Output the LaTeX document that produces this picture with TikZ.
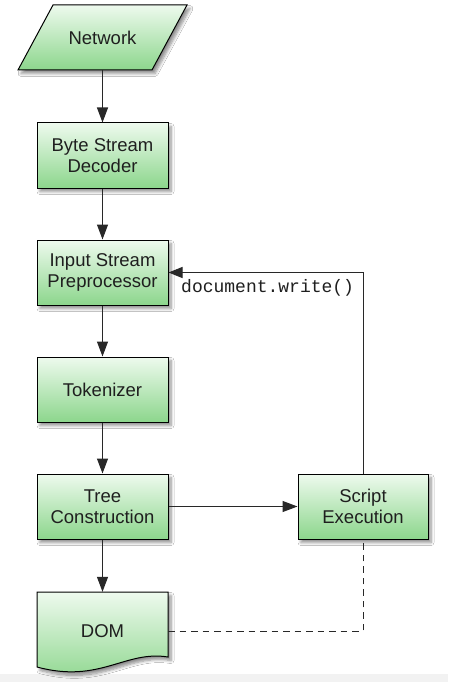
\documentclass[tikz,border=0pt]{standalone}
\usepackage{fontspec}
\setmainfont{Liberation Sans}
\newfontfamily\monofont{Liberation Mono}
\usetikzlibrary{arrows.meta,shadows.blur}
\definecolor{gtop}{RGB}{238,250,238}
\definecolor{gbot}{RGB}{140,214,140}
\definecolor{linec}{RGB}{40,40,40}
\tikzset{
  greenfill/.style={top color=gtop, bottom color=gbot, draw=black, line width=1pt,
    blur shadow={shadow xshift=3pt, shadow yshift=-3.5pt, shadow blur steps=6, shadow opacity=45, shadow blur radius=3pt}},
  stagebox/.style={greenfill, rectangle, minimum width=131pt, minimum height=65pt,
    align=center, inner sep=0pt, font=\fontsize{18.5}{21}\selectfont, text=black!88},
  plainlabel/.style={inner sep=0pt, align=center, font=\fontsize{18.5}{21}\selectfont, text=black!88},
  flow/.style={draw=linec, line width=1.1pt, -{Triangle[length=15pt,width=11pt]}},
  back/.style={draw=linec, line width=0.8pt, -{Triangle[length=14pt,width=11pt]}},
  dashline/.style={draw=linec, line width=0.8pt, dash pattern=on 6.5pt off 5pt}
}
\begin{document}
\begin{tikzpicture}[x=1pt,y=-1pt]
\useasboundingbox (0,0) rectangle (448,682);
\fill[white] (0,0) rectangle (448,682);
\fill[black!5] (0,674) rectangle (448,682);
% Network parallelogram
\path[greenfill] (53,5) -- (187,5) -- (152,70) -- (18,70) -- cycle;
\node[plainlabel, minimum height=65pt, minimum width=100pt] (net) at (102.5,37.5) {Network};
% DOM document shape
\path[greenfill] (37,592) -- (168,592) -- (168,657)
   .. controls (125,650) and (100,684) .. (37,667) -- cycle;
\node[plainlabel, minimum height=78pt, minimum width=131pt] (dom) at (102.5,631) {DOM};
% boxes
\node[stagebox] (byte) at (102.5,155.5) {Byte Stream\\Decoder};
\node[stagebox] (input) at (102.5,272.5) {Input Stream\\Preprocessor};
\node[stagebox] (token) at (102.5,389.5) {Tokenizer};
\node[stagebox] (tree) at (102.5,506.5) {Tree\\Construction};
\node[stagebox, minimum width=130pt] (script) at (363,506.5) {Script\\Execution};
% label
\node[anchor=west, inner sep=0pt, font=\monofont\fontsize{18}{20}\selectfont, text=black!88] (dw) at (181,288) {document.write()};
% connectors
\draw[flow] (net.south) -- (byte.north);
\draw[flow] (byte.south) -- (input.north);
\draw[flow] (input.south) -- (token.north);
\draw[flow] (token.south) -- (tree.north);
\draw[flow] (tree.south) -- (dom.north);
\draw[flow] (tree.east) -- (script.west);
\draw[back] (script.north) |- (input.east);
\draw[dashline] (dom.east) -| (script.south);
\end{tikzpicture}
\end{document}
